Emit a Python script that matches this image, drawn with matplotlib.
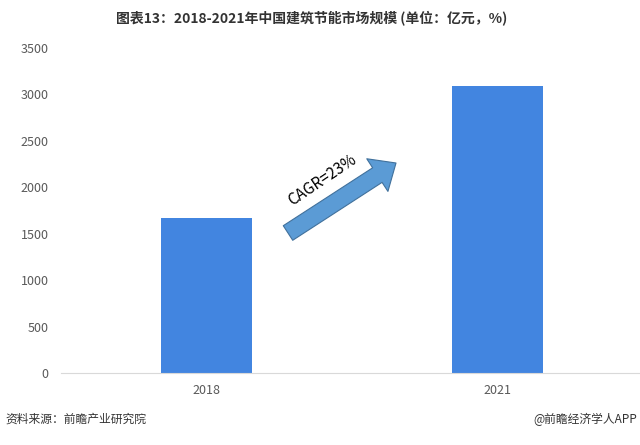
import matplotlib
matplotlib.use("Agg")
import matplotlib.pyplot as plt

plt.rcParams['font.family'] = ['Noto Sans CJK SC', 'DejaVu Sans']

years = ["2018", "2021"]
market = [1670, 3090]
yticks = [0, 500, 1000, 1500, 2000, 2500, 3000, 3500]
title = "图表13：2018-2021年中国建筑节能市场规模 (单位：亿元，%)"
source = "资料来源：前瞻产业研究院"
credit = "@前瞻经济学人APP"
cagr = "CAGR=23%"

fig = plt.figure(figsize=(6.4, 4.45), dpi=100)
ax = fig.add_axes([61 / 640, 1 - 373 / 445, 582 / 640, (373 - 48) / 445])

x = range(len(years))
ax.bar(x, market, width=0.31, color="#4285e0")
ax.set_xlim(-0.5, 1.5)
ax.set_ylim(0, 3500)
ax.set_yticks(yticks)
ax.set_xticks(list(x))
ax.set_xticklabels(years)
ax.tick_params(axis="both", length=0, labelsize=9, colors="#595959")
ax.tick_params(axis="y", pad=9)
ax.tick_params(axis="x", pad=8)
for s in ["top", "right", "left"]:
    ax.spines[s].set_visible(False)
ax.spines["bottom"].set_color("#d9d9d9")

# growth arrow
ax.annotate("", xy=(396, 445 - 163), xycoords="figure pixels",
            xytext=(288, 445 - 233), textcoords="figure pixels",
            arrowprops=dict(arrowstyle="simple,head_length=1.6,head_width=2.8,tail_width=1.25",
                            mutation_scale=10, fc="#5b9bd5", ec="#41719c", lw=0.8,
                            shrinkA=0, shrinkB=0))
fig.text(322 / 640, 1 - 180 / 445, cagr, rotation=34, ha="center", va="center",
         fontsize=11, color="#000000")

fig.text(312 / 640, 1 - 18 / 445, title, ha="center", va="center",
         fontsize=10, fontweight="bold", color="#333333")
fig.text(5 / 640, 1 - 419 / 445, source, ha="left", va="center", fontsize=8.5, color="#333333")
fig.text(637 / 640, 1 - 419 / 445, credit, ha="right", va="center", fontsize=8.5, color="#333333")

fig.savefig("out.png", dpi=100)
plt.close(fig)
